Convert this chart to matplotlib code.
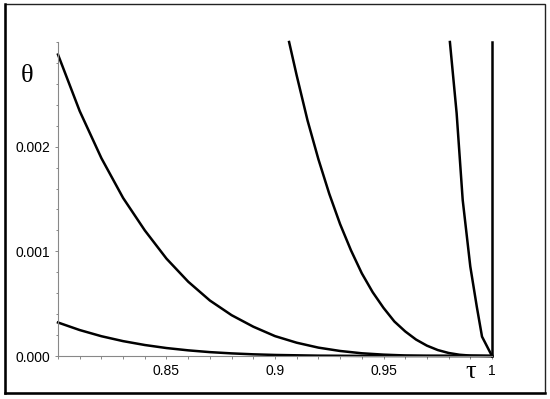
import matplotlib
matplotlib.use("Agg")
import matplotlib.pyplot as plt
from matplotlib.patches import Rectangle
from matplotlib.lines import Line2D
from matplotlib.ticker import MultipleLocator, FixedLocator

# curves (tau, theta)
tau1 = [0.80, 0.81, 0.82, 0.83, 0.84, 0.85, 0.86, 0.87, 0.88, 0.89, 0.90,
        0.92, 0.94, 0.96, 1.0]
theta1 = [0.00032, 0.000248, 0.000189, 0.000142, 0.000105, 0.000076, 0.000054,
          0.000037, 0.000025, 0.000016, 0.00001, 0.0000033, 0.0000008, 0.0, 0.0]

tau2 = [0.80, 0.81, 0.82, 0.83, 0.84, 0.85, 0.86, 0.87, 0.88, 0.89, 0.90,
        0.91, 0.92, 0.93, 0.94, 0.95, 0.96, 0.97, 1.0]
theta2 = [0.00288, 0.00234, 0.00189, 0.00151, 0.00120, 0.00093, 0.00071, 0.00053,
          0.00039, 0.00028, 0.00019, 0.000127, 0.00008, 0.000048, 0.000026,
          0.000013, 0.000005, 0.000002, 0.0]

tau3 = [0.9065, 0.910, 0.915, 0.920, 0.925, 0.930, 0.935, 0.940, 0.945, 0.950,
        0.955, 0.960, 0.965, 0.970, 0.975, 0.980, 0.985, 0.990, 1.0]
theta3 = [0.0030, 0.00268, 0.00225, 0.00188, 0.00155, 0.00126, 0.00101, 0.00079,
          0.00061, 0.00046, 0.00033, 0.000235, 0.000157, 0.000099, 0.000057,
          0.000029, 0.000012, 0.000004, 0.0]

tau4 = [0.9806, 0.9837, 0.9865, 0.99, 0.993, 0.9954, 1.0]
theta4 = [0.0030, 0.00232, 0.00149, 0.000855, 0.00047, 0.000185, 0.0]

tau5 = [1.0, 1.0]
theta5 = [0.0, 0.003]

xticks = [0.85, 0.9, 0.95, 1.0]
xlabels = ["0.85", "0.9", "0.95", "1"]
yticks = [0.0, 0.001, 0.002]
ylabels = ["0.000", "0.001", "0.002"]

plt.rcParams['font.family'] = ['Liberation Sans', 'DejaVu Sans']

fig = plt.figure(figsize=(5.5, 3.99), dpi=100)
ax = fig.add_axes([58/550, 1-356/399, 434/550, 314/399])

for t, th in [(tau1, theta1), (tau2, theta2), (tau3, theta3), (tau4, theta4), (tau5, theta5)]:
    ax.plot(t, th, color='black', lw=1.8, solid_joinstyle='round', clip_on=False)

ax.set_xlim(0.8, 1.0)
ax.set_ylim(0.0, 0.003)

for s in ['top', 'right']:
    ax.spines[s].set_visible(False)
for s in ['left', 'bottom']:
    ax.spines[s].set_color('#888888')
    ax.spines[s].set_linewidth(0.8)

ax.xaxis.set_major_locator(FixedLocator(xticks))
ax.set_xticklabels(xlabels)
ax.xaxis.set_minor_locator(MultipleLocator(0.01))
ax.yaxis.set_major_locator(FixedLocator(yticks))
ax.set_yticklabels(ylabels)
ax.yaxis.set_minor_locator(MultipleLocator(0.0002))
ax.tick_params(which='both', color='#888888', width=0.7, labelsize=10, pad=3)
ax.tick_params(which='major', length=2.5)
ax.tick_params(which='minor', length=1.8)

fig.text(27/550, 1-76/399, "θ", family='Liberation Serif', fontsize=19,
         ha='center', va='center')
fig.text(471/550, 1-372/399, "τ", family='Liberation Serif', fontsize=19,
         ha='center', va='center')

# outer frame
fig.patches.append(Rectangle((5/550, 1-393/399), 540/550, 389/399, transform=fig.transFigure,
                             fill=False, edgecolor='#222222', lw=1.0))
fig.lines.append(Line2D([5/550, 5/550], [1-393/399, 1-4/399], transform=fig.transFigure,
                        color='black', lw=1.8))
fig.lines.append(Line2D([5/550, 545/550], [1-393/399, 1-393/399], transform=fig.transFigure,
                        color='black', lw=1.8))

fig.savefig("out.png", dpi=100)
